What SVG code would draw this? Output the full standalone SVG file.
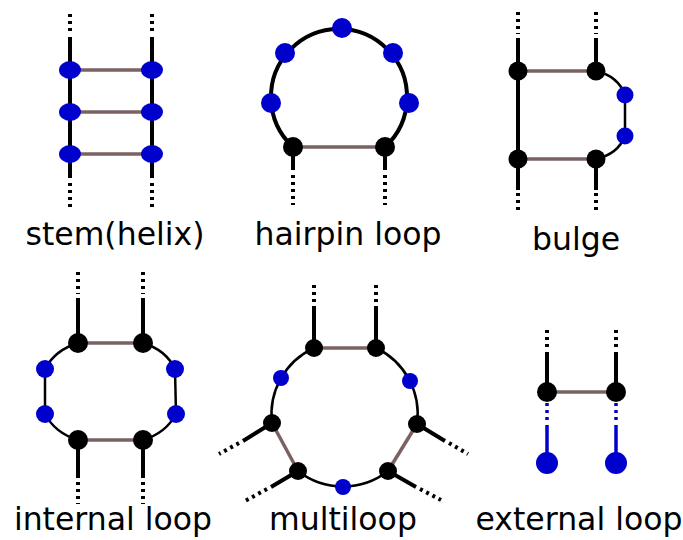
<svg xmlns="http://www.w3.org/2000/svg" width="683" height="540" viewBox="0 0 683 540">
<style>
.s{stroke:#000;stroke-width:4;fill:none}
.t{stroke:#000;stroke-width:2.5;fill:none}
.d{stroke:#000;stroke-width:4;stroke-dasharray:3 4;fill:none}
.p{stroke:#7a6262;stroke-width:3.5;fill:none}
.bd{stroke:#0000cc;stroke-width:3.5;stroke-dasharray:3 4;fill:none}
.bs{stroke:#0000cc;stroke-width:3.5;fill:none}
.b{fill:#0000cc}
.k{fill:#000}
text{font-family:"DejaVu Sans",sans-serif;font-size:31.5px;fill:#000;text-anchor:middle}
</style>
<rect width="683" height="540" fill="#fff"/>
<g id="connectors">
<!-- stem -->
<line class="d" x1="70" y1="14" x2="70" y2="35"/>
<line class="s" x1="70" y1="37" x2="70" y2="178"/>
<line class="d" x1="70" y1="183" x2="70" y2="211"/>
<line class="d" x1="152" y1="14" x2="152" y2="35"/>
<line class="s" x1="152" y1="37" x2="152" y2="178"/>
<line class="d" x1="152" y1="183" x2="152" y2="211"/>
<line class="p" x1="70" y1="70" x2="152" y2="70"/>
<line class="p" x1="70" y1="112" x2="152" y2="112"/>
<line class="p" x1="70" y1="154" x2="152" y2="154"/>
<!-- hairpin -->
<path class="s" stroke-width="5" d="M293,147 A68,68 0 1 1 385,147"/>
<line class="p" x1="293" y1="147" x2="385" y2="147"/>
<line class="s" x1="293" y1="147" x2="293" y2="170"/>
<line class="d" x1="293" y1="175" x2="293" y2="205"/>
<line class="s" x1="385" y1="147" x2="385" y2="170"/>
<line class="d" x1="385" y1="175" x2="385" y2="205"/>
<!-- bulge -->
<line class="d" x1="518" y1="12" x2="518" y2="34"/>
<line class="s" x1="518" y1="38" x2="518" y2="190"/>
<line class="d" x1="518" y1="193" x2="518" y2="214"/>
<line class="d" x1="596" y1="12" x2="596" y2="34"/>
<line class="s" x1="596" y1="38" x2="596" y2="71"/>
<line class="s" x1="596" y1="159" x2="596" y2="190"/>
<line class="d" x1="596" y1="193" x2="596" y2="214"/>
<path class="t" stroke-width="3" d="M596,71 Q618,76 625,95 L625,136 Q618,154 596,159"/>
<line class="p" x1="518" y1="71" x2="596" y2="71"/>
<line class="p" x1="518" y1="159" x2="596" y2="159"/>
<!-- internal loop -->
<line class="d" x1="78" y1="272" x2="78" y2="294"/>
<line class="s" x1="78" y1="298" x2="78" y2="343"/>
<line class="d" x1="143" y1="272" x2="143" y2="294"/>
<line class="s" x1="143" y1="298" x2="143" y2="343"/>
<line class="s" x1="78" y1="440" x2="78" y2="478"/>
<line class="d" x1="78" y1="482" x2="78" y2="504"/>
<line class="s" x1="143" y1="440" x2="143" y2="478"/>
<line class="d" x1="143" y1="482" x2="143" y2="504"/>
<path class="t" stroke-width="3" d="M78,343 Q55,350 45,369 L45,414 Q55,433 78,440"/>
<path class="t" stroke-width="3" d="M143,343 Q166,350 175,369 L176,414 Q166,433 143,440"/>
<line class="p" x1="78" y1="343" x2="143" y2="343"/>
<line class="p" x1="78" y1="440" x2="143" y2="440"/>
<!-- multiloop -->
<path class="t" d="M314,348 A73,73 0 0 0 272,423"/>
<path class="t" d="M298,471 A73,73 0 0 0 388,471"/>
<path class="t" d="M417,424 A73,73 0 0 0 376,348"/>
<line class="p" x1="314" y1="348" x2="376" y2="348"/>
<line class="p" x1="272" y1="423" x2="298" y2="471"/>
<line class="p" x1="417" y1="424" x2="388" y2="471"/>
<line class="s" x1="314" y1="348" x2="314" y2="306"/>
<line class="d" x1="314" y1="302" x2="314" y2="283"/>
<line class="s" x1="376" y1="348" x2="376" y2="306"/>
<line class="d" x1="376" y1="302" x2="376" y2="284"/>
<line class="s" x1="272" y1="423" x2="243" y2="441"/>
<line class="d" x1="239" y1="443" x2="219" y2="454"/>
<line class="s" x1="298" y1="471" x2="271" y2="487"/>
<line class="d" x1="267" y1="489" x2="245" y2="501"/>
<line class="s" x1="417" y1="424" x2="445" y2="441"/>
<line class="d" x1="449" y1="443" x2="468" y2="454"/>
<line class="s" x1="388" y1="471" x2="416" y2="487"/>
<line class="d" x1="420" y1="489" x2="441" y2="500"/>
<!-- external loop -->
<line class="d" x1="547" y1="330" x2="547" y2="347"/>
<line class="s" x1="547" y1="352" x2="547" y2="392"/>
<line class="d" x1="616" y1="330" x2="616" y2="347"/>
<line class="s" x1="616" y1="352" x2="616" y2="392"/>
<line class="bd" x1="547" y1="403" x2="547" y2="421"/>
<line class="bs" x1="547" y1="425" x2="547" y2="463"/>
<line class="bd" x1="616" y1="403" x2="616" y2="421"/>
<line class="bs" x1="616" y1="425" x2="616" y2="463"/>
<line class="p" x1="547" y1="392" x2="616" y2="392"/>
</g>
<g id="stem">
<ellipse class="b" cx="70" cy="70" rx="11" ry="9"/>
<ellipse class="b" cx="152" cy="70" rx="11" ry="9"/>
<ellipse class="b" cx="70" cy="112" rx="11" ry="9"/>
<ellipse class="b" cx="152" cy="112" rx="11" ry="9"/>
<ellipse class="b" cx="70" cy="154" rx="11" ry="9"/>
<ellipse class="b" cx="152" cy="154" rx="11" ry="9"/>
<text x="115" y="245">stem(helix)</text>
</g>
<g id="hairpin">
<circle class="b" cx="342" cy="28" r="10"/>
<circle class="b" cx="285" cy="53" r="10"/>
<circle class="b" cx="393" cy="53" r="10"/>
<circle class="b" cx="271" cy="103" r="10"/>
<circle class="b" cx="409" cy="103" r="10"/>
<circle class="k" cx="293" cy="147" r="10"/>
<circle class="k" cx="385" cy="147" r="10"/>
<text x="348" y="245">hairpin loop</text>
</g>
<g id="bulge">
<circle class="k" cx="518" cy="71" r="9.5"/>
<circle class="k" cx="596" cy="71" r="9.5"/>
<circle class="k" cx="518" cy="159" r="9.5"/>
<circle class="k" cx="596" cy="159" r="9.5"/>
<circle class="b" cx="625" cy="95" r="8.5"/>
<circle class="b" cx="625" cy="136" r="8.5"/>
<text x="576" y="250">bulge</text>
</g>
<g id="internal">
<circle class="k" cx="78" cy="343" r="10"/>
<circle class="k" cx="143" cy="343" r="10"/>
<circle class="k" cx="78" cy="440" r="10"/>
<circle class="k" cx="143" cy="440" r="10"/>
<circle class="b" cx="45" cy="369" r="9"/>
<circle class="b" cx="45" cy="414" r="9"/>
<circle class="b" cx="175" cy="369" r="9"/>
<circle class="b" cx="176" cy="414" r="9"/>
<text x="113" y="530">internal loop</text>
</g>
<g id="multiloop">
<circle class="k" cx="314" cy="348" r="9"/>
<circle class="k" cx="376" cy="348" r="9"/>
<circle class="k" cx="272" cy="423" r="9"/>
<circle class="k" cx="417" cy="424" r="9"/>
<circle class="k" cx="298" cy="471" r="9"/>
<circle class="k" cx="388" cy="471" r="9"/>
<circle class="b" cx="281" cy="378" r="8"/>
<circle class="b" cx="410" cy="381" r="8"/>
<circle class="b" cx="343" cy="487" r="8"/>
<text x="343" y="530">multiloop</text>
</g>
<g id="external">
<circle class="k" cx="547" cy="392" r="10"/>
<circle class="k" cx="616" cy="392" r="10"/>
<circle class="b" cx="547" cy="463" r="11"/>
<circle class="b" cx="616" cy="463" r="11"/>
<text x="579" y="530">external loop</text>
</g>
</svg>
